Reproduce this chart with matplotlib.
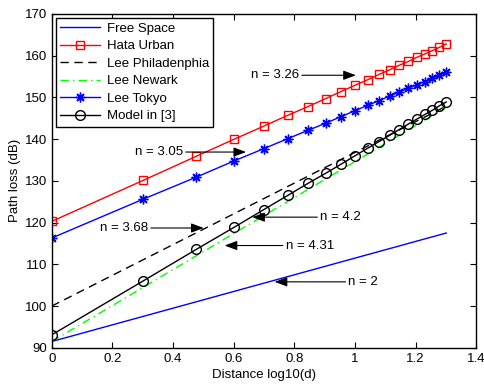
import numpy as np
import matplotlib
matplotlib.use("Agg")
import matplotlib.pyplot as plt

plt.rcParams["font.family"] = ["Liberation Sans", "DejaVu Sans"]
plt.rcParams["font.size"] = 9.5

# distance d = 1..20 (m), plotted as log10(d)
d = np.arange(1, 21)

# curves with markers (dB)
hata_urban = [120.3, 130.1, 135.9, 140.0, 143.1, 145.7, 147.8, 149.7, 151.4, 152.9,
              154.2, 155.5, 156.6, 157.7, 158.6, 159.6, 160.4, 161.2, 162.0, 162.8]
lee_tokyo = [116.3, 125.6, 130.9, 134.8, 137.7, 140.1, 142.1, 143.8, 145.4, 146.8,
             148.1, 149.2, 150.3, 151.3, 152.2, 153.0, 153.8, 154.6, 155.3, 156.0]
model_3 = [93.1, 106.0, 113.6, 118.9, 123.1, 126.5, 129.4, 131.8, 134.0, 136.0,
           137.8, 139.4, 140.9, 142.3, 143.6, 144.8, 145.9, 146.9, 148.0, 148.9]

# straight lines without markers: value at d=1 and d=20
d_ends = [1, 20]
free_space = [91.5, 117.5]
lee_phila = [100.0, 147.9]
lee_newark = [91.5, 147.6]

# annotations: label, arrow tip (x, y), text left (x, y)
notes = [
    ("n = 3.26", (1.003, 155.3), (0.657, 155.3)),
    ("n = 3.05", (0.641, 136.9), (0.274, 136.9)),
    ("n = 3.68", (0.501, 118.7), (0.159, 118.7)),
    ("n = 4.2", (0.661, 121.3), (0.885, 121.3)),
    ("n = 4.31", (0.570, 114.5), (0.771, 114.5)),
    ("n = 2", (0.735, 105.8), (0.978, 105.8)),
]

x = np.log10(d)
xe = np.log10(d_ends)

fig = plt.figure(figsize=(4.84, 3.86), dpi=100)
ax = fig.add_axes([0.107, 0.099, 0.877, 0.865])

ax.plot(xe, free_space, color=(0, 0, 1), lw=1, label="Free Space")
ax.plot(x, hata_urban, color=(1, 0, 0), lw=1, marker="s", ms=6, mfc="none",
        mec=(1, 0, 0), label="Hata Urban")
ax.plot(xe, lee_phila, color="k", lw=1, ls=(0, (6, 4)), label="Lee Philadenphia")
ax.plot(xe, lee_newark, color=(0, 1, 0), lw=1, ls=(0, (6, 3, 1, 3)), label="Lee Newark")
ax.plot(x, lee_tokyo, color=(0, 0, 1), lw=1, marker=(8, 2, 0), ms=7, mew=1,
        label="Lee Tokyo")
ax.plot(x, model_3, color="k", lw=1, marker="o", ms=7, mfc="none", mec="k",
        label="Model in [3]")

for txt, tip, pos in notes:
    ax.annotate(txt, xy=tip, xytext=pos, ha="left", va="center", fontsize=9.5,
                arrowprops=dict(arrowstyle="-|>,head_length=0.8,head_width=0.3",
                                color="k", lw=0.8, shrinkA=0, shrinkB=0))

ax.set_xlim(0, 1.4)
ax.set_ylim(90, 170)
ax.set_xticks(np.arange(0, 1.41, 0.2))
ax.set_xticklabels(["0", "0.2", "0.4", "0.6", "0.8", "1", "1.2", "1.4"])
ax.set_yticks(np.arange(90, 171, 10))
ax.tick_params(direction="in", top=True, right=True, length=4, width=0.8)
for s in ax.spines.values():
    s.set_linewidth(1.0)
ax.set_xlabel("Distance log10(d)", labelpad=3)
ax.set_ylabel("Path loss (dB)", labelpad=3)

leg = ax.legend(loc="upper left", fontsize=9.5, handlelength=3.0, labelspacing=0.4,
                borderaxespad=0.3, fancybox=False, framealpha=1, edgecolor="k",
                borderpad=0.35, handletextpad=0.5)
leg.get_frame().set_linewidth(1.0)

fig.savefig("out.png", dpi=100)
